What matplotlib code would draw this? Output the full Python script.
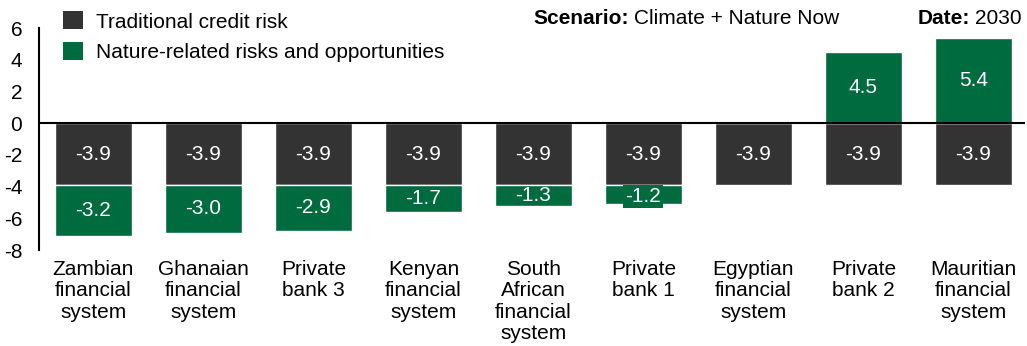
import matplotlib
matplotlib.use("Agg")
import matplotlib.pyplot as plt
from matplotlib.patches import Patch

plt.rcParams['font.family'] = ['Liberation Sans', 'DejaVu Sans']

categories = ["Zambian\nfinancial\nsystem", "Ghanaian\nfinancial\nsystem", "Private\nbank 3",
              "Kenyan\nfinancial\nsystem", "South\nAfrican\nfinancial\nsystem", "Private\nbank 1",
              "Egyptian\nfinancial\nsystem", "Private\nbank 2", "Mauritian\nfinancial\nsystem"]
traditional = [-3.9, -3.9, -3.9, -3.9, -3.9, -3.9, -3.9, -3.9, -3.9]
nature = [-3.2, -3.0, -2.9, -1.7, -1.3, -1.2, 0.0, 4.5, 5.4]
yticks = [-8, -6, -4, -2, 0, 2, 4, 6]

dark = "#333333"
green = "#006B3F"
fs = 15

fig = plt.figure(figsize=(10.27, 3.46), dpi=100)
ax = fig.add_axes([39/1027, 1-250/346, (1025-39)/1027, (250-28)/346])

x = list(range(len(categories)))
w = 0.7
ax.bar(x, traditional, width=w, color=dark, edgecolor="white", linewidth=1, zorder=2)
nb = [t if n < 0 else 0 for t, n in zip(traditional, nature)]
ax.bar(x, nature, width=w, bottom=nb, color=green, edgecolor="white", linewidth=1, zorder=2)

for xi, t in zip(x, traditional):
    ax.text(xi, t/2, f"{t:.1f}", ha="center", va="center", color="white", fontsize=fs, zorder=3)
for xi, n, b in zip(x, nature, nb):
    if n != 0:
        kw = {}
        if abs(n) < 1.25:
            kw = dict(bbox=dict(boxstyle="square,pad=0.1", fc=green, ec="none"))
        ax.text(xi, b + n/2 - (0.15 if abs(n) < 1.25 else 0), f"{n:.1f}", ha="center", va="center",
                color="white", fontsize=fs, zorder=3, **kw)

ax.axhline(0, color="black", linewidth=1.5, zorder=4)
ax.set_ylim(-8, 6)
ax.set_xlim(-0.495, 8.47)
ax.set_yticks(yticks)
ax.set_yticklabels([str(v) for v in yticks], fontsize=fs)
ax.set_xticks(x)
ax.set_xticklabels(categories, fontsize=fs, linespacing=1.17)
ax.tick_params(axis="both", length=0)
ax.tick_params(axis="y", pad=12)
ax.tick_params(axis="x", pad=7)
for s in ["top", "right", "bottom"]:
    ax.spines[s].set_visible(False)
ax.spines["left"].set_linewidth(1.5)

handles = [Patch(facecolor=dark, label="Traditional credit risk"),
           Patch(facecolor=green, label="Nature-related risks and opportunities")]
fig.legend(handles=handles, loc="upper left", bbox_to_anchor=(52/1027, 1.0), frameon=False,
           fontsize=fs, handlelength=0.95, handleheight=0.95, handletextpad=0.6, labelspacing=0.5,
           borderaxespad=0.15)

fig.canvas.draw()
r = fig.canvas.get_renderer()
y_t = 1 - 18/346
t1 = fig.text(533/1027, y_t, "Scenario:", fontsize=fs, fontweight="bold", va="center", ha="left")
bb = t1.get_window_extent(renderer=r)
fig.text((bb.x1 + 5)/1027, y_t, "Climate + Nature Now", fontsize=fs, va="center", ha="left")
t3 = fig.text(1022/1027, y_t, "2030", fontsize=fs, va="center", ha="right")
bb3 = t3.get_window_extent(renderer=r)
fig.text((bb3.x0 - 5)/1027, y_t, "Date:", fontsize=fs, fontweight="bold", va="center", ha="right")

fig.savefig("out.png", dpi=100)
